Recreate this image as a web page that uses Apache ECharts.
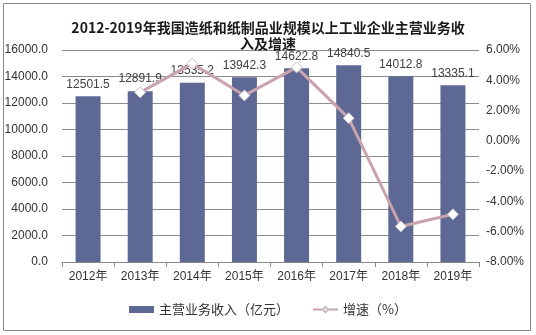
<!DOCTYPE html>
<html><head><meta charset="utf-8">
<script src="https://cdn.jsdelivr.net/npm/echarts@6/dist/echarts.min.js"></script>
<style>html,body{margin:0;padding:0;background:#fff}#c{width:536px;height:335px}</style>
</head><body><div id="c"></div>
<script>
const categories = ['2012年','2013年','2014年','2015年','2016年','2017年','2018年','2019年'];
const revenue = [12501.5, 12891.9, 13535.2, 13942.3, 14622.8, 14840.5, 14012.8, 13335.1];
const growth = [null, 3.2, 5.1, 3.0, 4.85, 1.5, -5.65, -4.85];
const titleText = '2012-2019年我国造纸和纸制品业规模以上工业企业主营业务收\n入及增速';
const seriesNames = ['主营业务收入（亿元）', '增速（%）'];

const chart = echarts.init(document.getElementById('c'));
chart.setOption({
  animation: false,
  backgroundColor: '#fff',
  graphic: [{type:'rect', shape:{x:3.5,y:3.5,width:527,height:327}, style:{fill:'none', stroke:'#8a8a8a', lineWidth:1}, silent:true}],
  title: {
    text: titleText, left: 'center', top: 15,
    textStyle: {fontSize: 14, fontWeight: 'bold', color: '#1a1a1a', lineHeight: 16, fontFamily: '"Noto Sans CJK SC", sans-serif'}
  },
  grid: {left: 62, right: 57, top: 50, bottom: 73},
  legend: {
    bottom: 14, left: 'center', itemWidth: 25, itemHeight: 7, itemGap: 23,
    textStyle: {fontSize: 13, color: '#333', fontFamily: '"Noto Sans CJK SC", sans-serif'},
    data: [{name: seriesNames[0], icon: 'rect'}, {name: seriesNames[1]}]
  },
  xAxis: {
    type: 'category', data: categories,
    axisLine: {lineStyle: {color: '#8a8a8a'}},
    axisTick: {show: true, inside: false, length: 5, lineStyle: {color: '#8a8a8a'}},
    axisLabel: {fontSize: 12, color: '#333', margin: 9, fontFamily: 'Liberation Sans, "Noto Sans CJK SC", sans-serif'}
  },
  yAxis: [{
    type: 'value', min: 0, max: 16000, interval: 2000,
    axisLine: {show: false}, axisTick: {show: false},
    splitLine: {lineStyle: {color: '#8c8c8c'}},
    axisLabel: {fontSize: 12, color: '#333', margin: 14, formatter: v => v.toFixed(1), fontFamily: 'Liberation Sans, sans-serif'}
  }, {
    type: 'value', min: -8, max: 6, interval: 2,
    axisLine: {show: false}, axisTick: {show: false},
    splitLine: {show: false},
    axisLabel: {fontSize: 12, color: '#333', margin: 7, formatter: v => v.toFixed(2) + '%', fontFamily: 'Liberation Sans, sans-serif'}
  }],
  series: [{
    name: seriesNames[0], type: 'bar', data: revenue, barWidth: 25,
    itemStyle: {color: '#5d6994'},
    label: {show: true, position: 'top', distance: 6, fontSize: 12, color: '#404040', formatter: p => p.value.toFixed(1), fontFamily: 'Liberation Sans, sans-serif'}
  }, {
    name: seriesNames[1], type: 'line', yAxisIndex: 1, data: growth,
    lineStyle: {color: '#c8a3ab', width: 3},
    itemStyle: {color: '#ffffff', borderColor: '#c8c0c4', borderWidth: 1},
    symbol: 'diamond', symbolSize: 11, showAllSymbol: true, z: 3
  }]
});
</script></body></html>
